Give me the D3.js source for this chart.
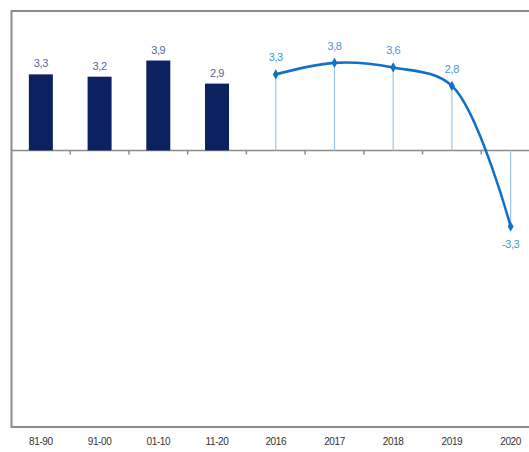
<!DOCTYPE html>
<html>
<head>
<meta charset="utf-8">
<style>
body { margin: 0; background: #fff; }
svg text { font-family: "Liberation Sans Narrow", "Liberation Sans", Arial, sans-serif; letter-spacing: -0.4px; }
</style>
</head>
<body>
<svg id="chart" width="529" height="452"></svg>
<script src="https://cdn.jsdelivr.net/npm/d3@7"></script>
<script>
// data
var categories = ["81-90", "91-00", "01-10", "11-20", "2016", "2017", "2018", "2019", "2020"];
var barCats = ["81-90", "91-00", "01-10", "11-20"];
var barValues = [3.3, 3.2, 3.9, 2.9];
var lineCats = ["2016", "2017", "2018", "2019", "2020"];
var lineValues = [3.3, 3.8, 3.6, 2.8, -3.3];

var svg = d3.select("#chart");
var plotLeft = 11.5, plotTop = 11, plotBottom = 427, plotRight = 540;

var x = d3.scaleBand().domain(categories).range([plotLeft, plotRight]);
var y = d3.scaleLinear().domain([-12, 6.05]).range([plotBottom, plotTop]);

// comma decimals, plain hyphen for negatives
var fmt = function(v) { return d3.format(".1f")(v).replace(".", ",").replace("\u2212", "-"); };
var cx = function(c) { return x(c) + x.bandwidth() / 2; };

// frame
svg.append("path")
  .attr("d", "M" + plotRight + "," + plotTop + "H" + plotLeft + "V" + plotBottom + "H" + plotRight)
  .attr("fill", "none")
  .attr("stroke", "#8c8c8c")
  .attr("stroke-width", 2);

// zero axis with small ticks between categories
var axis = svg.append("g")
  .attr("transform", "translate(0," + y(0) + ")");
axis.append("line")
  .attr("x1", plotLeft).attr("x2", plotRight)
  .attr("stroke", "#8c8c8c").attr("stroke-width", 1.5);
axis.selectAll(".tk")
  .data(categories.slice(1))
  .enter().append("line")
  .attr("x1", function(d) { return x(d); })
  .attr("x2", function(d) { return x(d); })
  .attr("y1", 0).attr("y2", 4)
  .attr("stroke", "#8c8c8c").attr("stroke-width", 1.5);

// category labels
svg.selectAll(".cat")
  .data(categories)
  .enter().append("text")
  .attr("x", function(d) { return cx(d); })
  .attr("y", 445)
  .attr("text-anchor", "middle")
  .attr("font-size", 10)
  .attr("fill", "#333")
  .text(function(d) { return d; });

// bars
var bw = 24;
var bars = barCats.map(function(c, i) { return { c: c, v: barValues[i] }; });
svg.selectAll(".bar")
  .data(bars)
  .enter().append("rect")
  .attr("x", function(d) { return cx(d.c) - bw / 2; })
  .attr("y", function(d) { return y(d.v); })
  .attr("width", bw)
  .attr("height", function(d) { return y(0) - y(d.v); })
  .attr("fill", "#0b2160");

svg.selectAll(".blab")
  .data(bars)
  .enter().append("text")
  .attr("x", function(d) { return cx(d.c); })
  .attr("y", function(d) { return y(d.v) - 7; })
  .attr("text-anchor", "middle")
  .attr("font-size", 11)
  .attr("fill", "#4f68a3")
  .text(function(d) { return fmt(d.v); });

// line series
var pts = lineCats.map(function(c, i) { return { c: c, v: lineValues[i] }; });

svg.selectAll(".drop")
  .data(pts)
  .enter().append("line")
  .attr("x1", function(d) { return cx(d.c); })
  .attr("x2", function(d) { return cx(d.c); })
  .attr("y1", function(d) { return y(d.v); })
  .attr("y2", y(0))
  .attr("stroke", "#9cc6ec")
  .attr("stroke-width", 1.2);

var line = d3.line()
  .x(function(d) { return cx(d.c); })
  .y(function(d) { return y(d.v); })
  .curve(d3.curveCatmullRom.alpha(0.5));

svg.append("path")
  .datum(pts)
  .attr("d", line)
  .attr("fill", "none")
  .attr("stroke", "#1170c8")
  .attr("stroke-width", 2.6);

svg.selectAll(".mk")
  .data(pts)
  .enter().append("path")
  .attr("d", d3.symbol().type(d3.symbolDiamond).size(30))
  .attr("transform", function(d) { return "translate(" + cx(d.c) + "," + y(d.v) + ")"; })
  .attr("fill", "#1170c8");

svg.selectAll(".llab")
  .data(pts)
  .enter().append("text")
  .attr("x", function(d) { return cx(d.c); })
  .attr("y", function(d) { return d.v < 0 ? y(d.v) + 22 : y(d.v) - 13; })
  .attr("text-anchor", "middle")
  .attr("font-size", 11)
  .attr("fill", "#4a94d8")
  .text(function(d) { return fmt(d.v); });
</script>
</body>
</html>
